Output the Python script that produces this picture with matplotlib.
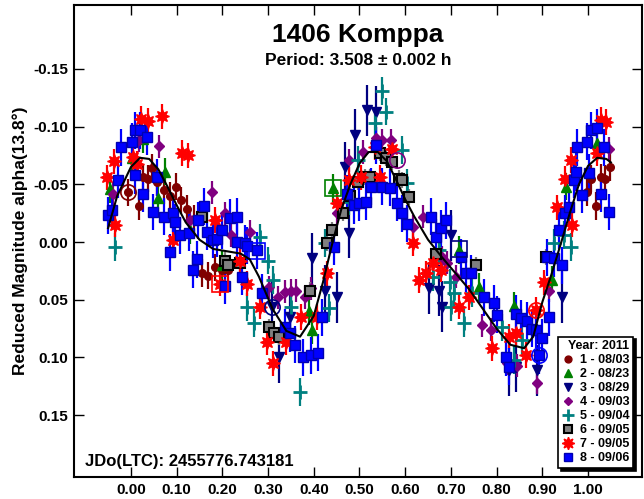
import matplotlib.pyplot as plt
from matplotlib.lines import Line2D

plt.rcParams['font.family'] = ['Liberation Sans', 'DejaVu Sans']
plt.rcParams['font.weight'] = 'bold'
plt.rcParams['axes.unicode_minus'] = False

# session data (phase, reduced mag)
s1_phase = [-0.007, 0.017, 0.026, 0.037, 0.046, 0.058, 0.072, 0.085, 0.098, 0.110, 0.122, 0.138,
            0.155, 0.168, 0.185, 0.199, 0.212, 0.998, 1.006, 1.017, 1.028, 1.037, 1.048]
s1_mag = [-0.043, -0.031, -0.056, -0.055, -0.064, -0.052, -0.045, -0.040, -0.048, -0.036, -0.029, -0.020,
          0.027, 0.029, 0.022, 0.024, 0.024, -0.043, -0.055, -0.031, -0.056, -0.055, -0.065]

s2_phase = [-0.046, 0.002, 0.026, 0.059, 0.074, 0.130, 0.200, 0.390, 0.397, 0.441, 0.718, 0.762,
            0.838, 0.921, 0.952, 1.020]
s2_mag = [-0.046, -0.073, -0.089, -0.038, -0.061, -0.010, 0.020, 0.060, 0.076, -0.047, 0.007, 0.039,
          0.055, 0.033, -0.048, -0.086]

s3_phase = [0.308, 0.325, 0.347, 0.397, 0.424, 0.450, 0.469, 0.478, 0.491, 0.517, 0.537, 0.653,
            0.675, 0.680, 0.701, 0.828, 0.843, 0.889, 0.943]
s3_mag = [0.056, 0.100, 0.065, 0.014, 0.042, 0.048, -0.065, -0.008, -0.093, -0.114, -0.113, 0.040,
          0.042, 0.056, -0.006, 0.111, 0.108, 0.111, 0.048]

s4_phase = [-0.039, 0.017, 0.061, 0.129, 0.177, 0.205, 0.220, 0.260, 0.303, 0.321, 0.336, 0.351,
            0.362, 0.380, 0.395, 0.450, 0.478, 0.507, 0.537, 0.550, 0.570, 0.616, 0.638, 0.681,
            0.692, 0.712, 0.769, 0.788, 0.823, 0.845, 0.889, 0.915, 0.974, 1.046]
s4_mag = [-0.042, -0.088, -0.083, -0.019, -0.043, -0.025, -0.006, -0.009, 0.039, 0.048, 0.043, 0.042,
          0.042, 0.048, 0.040, -0.025, -0.071, -0.078, -0.090, -0.088, -0.088, -0.013, -0.022, 0.013,
          0.018, 0.030, 0.072, 0.076, 0.105, 0.107, 0.122, 0.042, -0.054, -0.081]

s5_phase = [-0.035, 0.255, 0.270, 0.282, 0.299, 0.310, 0.351, 0.369, 0.424, 0.434, 0.478, 0.496,
            0.533, 0.550, 0.559, 0.592, 0.605, 0.660, 0.675, 0.697, 0.701, 0.707, 0.729, 0.747,
            0.812, 0.838, 0.856, 0.926, 0.948, 0.963]
s5_mag = [0.004, 0.056, 0.070, -0.004, 0.016, 0.033, 0.056, 0.130, 0.001, 0.057, -0.035, -0.071,
          -0.103, -0.131, -0.113, -0.080, -0.051, 0.030, 0.007, 0.035, 0.056, 0.044, 0.070, 0.044,
          0.074, 0.102, 0.085, 0.001, -0.006, 0.004]

s6_phase = [0.155, 0.205, 0.212, 0.238, 0.303, 0.314, 0.325, 0.391, 0.430, 0.440, 0.463, 0.480,
            0.496, 0.511, 0.522, 0.544, 0.559, 0.572, 0.587, 0.594, 0.609, 0.668, 0.755, 0.908]
s6_mag = [-0.022, 0.016, 0.020, 0.018, 0.074, 0.079, 0.082, 0.042, 0.001, -0.010, -0.025, -0.040,
          -0.052, -0.056, -0.056, -0.077, -0.073, -0.069, -0.055, -0.054, -0.039, 0.010, 0.020, 0.013]

s7_phase = [-0.052, -0.037, -0.035, 0.004, 0.013, 0.022, 0.037, 0.068, 0.092, 0.111, 0.124, 0.183,
            0.194, 0.238, 0.253, 0.282, 0.297, 0.310, 0.340, 0.373, 0.406, 0.428, 0.450, 0.478,
            0.504, 0.533, 0.544, 0.572, 0.616, 0.631, 0.646, 0.660, 0.679, 0.718, 0.740, 0.790,
            0.828, 0.843, 0.865, 0.886, 0.904, 0.932, 0.950, 0.963, 0.965, 1.020, 1.028, 1.039]
s7_mag = [-0.056, -0.070, -0.015, -0.074, -0.068, -0.107, -0.105, -0.109, -0.002, -0.077, -0.075, -0.019,
          0.036, 0.016, 0.036, 0.056, 0.087, 0.105, 0.087, 0.065, 0.065, 0.027, -0.034, -0.054,
          -0.056, -0.082, -0.056, -0.081, 0.001, 0.033, 0.027, 0.018, 0.024, 0.056, 0.048, 0.092,
          0.082, 0.079, 0.098, 0.059, 0.035, -0.030, -0.055, -0.071, -0.015, -0.077, -0.106, -0.104]

s8_phase = [-0.050, -0.041, -0.028, -0.022, 0.002, 0.009, 0.020, 0.035, 0.026, 0.009, 0.048, 0.057,
            0.072, 0.092, 0.085, 0.096, 0.107, 0.127, 0.135, 0.144, 0.146, 0.160, 0.166, 0.180,
            0.188, 0.199, 0.205, 0.216, 0.231, 0.231, 0.242, 0.249, 0.253, 0.275, 0.286, 0.336,
            0.347, 0.358, 0.376, 0.395, 0.410, 0.419, 0.445, 0.472, 0.489, 0.500, 0.515, 0.526,
            0.537, 0.550, 0.566, 0.581, 0.592, 0.603, 0.657, 0.668, 0.679, 0.690, 0.723, 0.734,
            0.745, 0.773, 0.795, 0.801, 0.821, 0.828, 0.843, 0.854, 0.867, 0.878, 0.886, 0.893,
            0.900, 0.910, 0.915, 0.926, 0.937, 0.943, 0.950, 0.958, 0.969, 0.974, 0.976, 0.987,
            0.998, 1.002, 1.006, 1.020, 1.028, 1.035, 1.046]
s8_mag = [-0.023, -0.028, -0.054, -0.082, -0.087, -0.097, -0.097, -0.091, -0.042, -0.058, -0.026, -0.056,
          -0.022, -0.025, 0.009, -0.017, -0.006, -0.008, 0.024, 0.015, -0.019, -0.031, -0.009, -0.002,
          -0.003, -0.010, 0.038, -0.021, -0.022, 0.000, 0.030, 0.001, 0.003, 0.007, 0.044, 0.074,
          0.079, 0.089, 0.100, 0.098, 0.096, 0.065, 0.004, -0.042, -0.032, -0.034, -0.035, -0.048,
          -0.084, -0.048, -0.047, -0.034, -0.025, -0.016, -0.022, -0.004, -0.012, -0.019, 0.013, 0.027,
          0.027, 0.048, 0.053, 0.063, 0.100, 0.108, 0.062, 0.066, 0.068, 0.075, 0.076, 0.098,
          0.083, 0.013, 0.065, 0.014, -0.010, 0.020, -0.025, -0.030, -0.054, -0.061, -0.082, -0.041,
          -0.087, -0.060, -0.097, -0.099, -0.042, -0.082, -0.026]

errs = [0.012, 0.012, 0.022, 0.010, 0.012, 0.007, 0.011, 0.016]
labels = ['1 - 08/03', '2 - 08/23', '3 - 08/29', '4 - 09/03',
          '5 - 09/04', '6 - 09/05', '7 - 09/05', '8 - 09/06']

# Fourier fit
fit_phase = [-0.05, -0.03, 0.00, 0.02, 0.04, 0.06, 0.08, 0.10, 0.12, 0.15, 0.18, 0.21, 0.24, 0.26,
             0.28, 0.31, 0.34, 0.37, 0.40, 0.42, 0.44, 0.46, 0.48, 0.50, 0.52, 0.54, 0.56, 0.58,
             0.60, 0.62, 0.65, 0.68, 0.71, 0.74, 0.77, 0.80, 0.83, 0.86, 0.88, 0.90, 0.92, 0.94,
             0.96, 0.98, 1.00, 1.02, 1.04, 1.05]
fit_mag = [-0.012, -0.040, -0.065, -0.073, -0.072, -0.063, -0.048, -0.032, -0.017, -0.002, 0.006, 0.008,
           0.010, 0.015, 0.030, 0.058, 0.077, 0.082, 0.064, 0.035, 0.002, -0.028, -0.050, -0.068,
           -0.078, -0.078, -0.070, -0.054, -0.037, -0.022, -0.002, 0.013, 0.027, 0.041, 0.058, 0.075,
           0.089, 0.092, 0.082, 0.052, 0.028, 0.002, -0.025, -0.050, -0.066, -0.073, -0.072, -0.069]

# first-point (hollow) markers
hol_phase = [-0.007, 0.194, 0.275, 0.308, 0.441, 0.583, 0.718, 0.886, 0.893]
hol_mag = [-0.043, 0.036, 0.008, 0.056, -0.047, -0.071, 0.006, 0.059, 0.098]
hol_color = ['#800000', '#ff0000', '#0000ff', '#000080', '#008000', '#800080', '#000080', '#ff0000', '#0000ff']
hol_marker = ['o', 's', 's', 'o', 's', 'o', 's', 'o', 'o']

styles = [
    dict(marker='o', ms=5.5, mfc='#800000', mec='#800000', color='#800000'),
    dict(marker='^', ms=6.5, mfc='#008000', mec='#008000', color='#008000'),
    dict(marker='v', ms=6.5, mfc='#000080', mec='#000080', color='#000080'),
    dict(marker='D', ms=4.8, mfc='#800080', mec='#800080', color='#800080'),
    dict(marker='+', ms=10, mew=2, mfc='#008080', mec='#008080', color='#008080'),
    dict(marker='s', ms=6.5, mfc='#808080', mec='black', mew=1.5, color='#808080'),
    dict(marker=(8, 1, 0), ms=10, mfc='#ff0000', mec='#ff0000', color='#ff0000'),
    dict(marker='s', ms=6.5, mfc='#0000ff', mec='#0000b0', mew=1, color='#0000ff'),
]

phases = [s1_phase, s2_phase, s3_phase, s4_phase, s5_phase, s6_phase, s7_phase, s8_phase]
mags = [s1_mag, s2_mag, s3_mag, s4_mag, s5_mag, s6_mag, s7_mag, s8_mag]

fig = plt.figure(figsize=(6.44, 4.99), dpi=100)
ax = fig.add_axes([74 / 644, 22 / 499, 568 / 644, 472 / 499])

for p, m, e, st in zip(phases, mags, errs, styles):
    ax.errorbar(p, m, yerr=e, fmt='none', ecolor=st['color'], elinewidth=1.6, capsize=0, zorder=2)
    ax.plot(p, m, linestyle='none', marker=st['marker'], ms=st['ms'], mfc=st['mfc'],
            mec=st['mec'], mew=st.get('mew', 1), zorder=3)

for p, m, c, mk in zip(hol_phase, hol_mag, hol_color, hol_marker):
    ax.plot(p, m, linestyle='none', marker=mk, ms=11, mfc='none', mec=c, mew=1.2, zorder=4)

ax.plot(fit_phase, fit_mag, color='black', lw=1.5, zorder=5)

ax.set_xlim(-0.1245, 1.118)
ax.set_ylim(0.2036, -0.2054)
ax.set_xticks([i / 10 for i in range(11)])
ax.set_yticks([-0.15, -0.10, -0.05, 0.0, 0.05, 0.10, 0.15])
ax.xaxis.set_major_formatter('{x:.2f}')
ax.yaxis.set_major_formatter('{x:.2f}')
ax.tick_params(direction='in', length=7, width=1, top=True, right=True,
               labelsize=11, pad=4)
for lab in ax.get_xticklabels() + ax.get_yticklabels():
    lab.set_fontweight('bold')
for sp in ax.spines.values():
    sp.set_linewidth(1.5)

ax.set_ylabel('Reduced Magnitude alpha(13.8°)', fontsize=12.5, fontweight='bold', labelpad=4)

ax.text(0.5, 0.936, '1406 Komppa', transform=ax.transAxes, ha='center', va='center',
        fontsize=19, fontweight='bold')
ax.text(0.5, 0.883, 'Period: 3.508 ± 0.002 h', transform=ax.transAxes, ha='center', va='center',
        fontsize=12.5, fontweight='bold')
ax.text(0.019, 0.023, 'JDo(LTC): 2455776.743181', transform=ax.transAxes, ha='left', va='baseline',
        fontsize=12, fontweight='bold')

handles = [Line2D([], [], linestyle='none', marker=st['marker'], ms=st['ms'] * 0.9, mfc=st['mfc'],
                  mec=st['mec'], mew=st.get('mew', 1)) for st in styles]
leg = ax.legend(handles, labels, title='Year: 2011', loc='lower right',
                bbox_to_anchor=(0.984, 0.019), frameon=True, fancybox=False,
                edgecolor='black', framealpha=1, shadow={'color': 'black', 'alpha': 1},
                prop=dict(weight='bold', size=9), title_fontproperties=dict(weight='bold', size=9),
                handlelength=0.9, handletextpad=0.5, labelspacing=0.16, borderpad=0.3,
                borderaxespad=0, alignment='right')
leg.get_frame().set_linewidth(1.2)
leg.set_zorder(10)

fig.savefig('out.png', dpi=100)
